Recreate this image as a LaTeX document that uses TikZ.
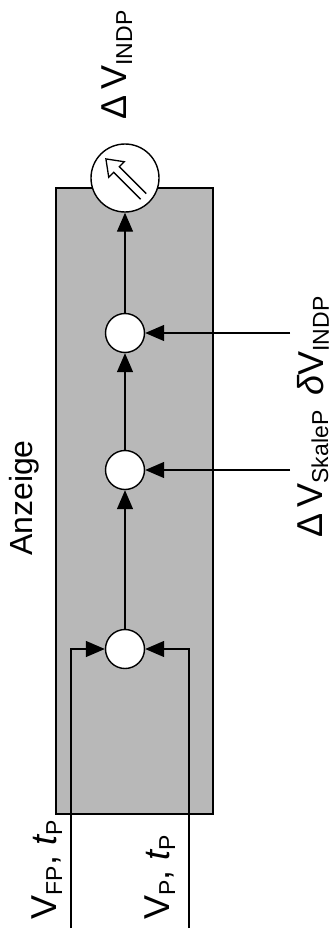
\documentclass[tikz,border=0pt]{standalone}
\usepackage{fontspec}
\setmainfont{Liberation Sans}
\usetikzlibrary{arrows.meta, positioning, calc}
\definecolor{panelgray}{RGB}{184,184,184}
\newcommand{\idx}[1]{\raisebox{-0.3ex}{\fontsize{23}{23}\selectfont #1}}

\begin{document}
\begin{tikzpicture}[x=1pt, y=-1pt, line width=1.4pt,
  sumnode/.style={circle, draw, fill=white, minimum size=39pt, inner sep=0pt},
  flow/.style={-{Triangle[length=19pt, width=16pt]}},
  lbl/.style={rotate=90, font=\fontsize{36}{36}\selectfont, inner sep=0pt}]
  \useasboundingbox (0,0) rectangle (334,931);
  % Anzeige block
  \node[draw, fill=panelgray, minimum width=157pt, minimum height=626pt, inner sep=0pt] (panel) at (134.5,501) {};
  \node[lbl, font=\fontsize{32}{32}\selectfont] (title) at (24,498) {Anzeige};
  % summing points and meter
  \node[sumnode] (s1) at (125,649) {};
  \node[sumnode] (s2) at (125,470) {};
  \node[sumnode] (s3) at (125,333) {};
  \node[circle, draw, fill=white, minimum size=68pt, inner sep=0pt] (meter) at (125,178) {};
  \begin{scope}[shift={(meter.center)}, rotate=135, line width=1.3pt]
    \draw (-26,4) -- (12,4) -- (12,11) -- (27,0) -- (12,-11) -- (12,-4) -- (-26,-4);
  \end{scope}
  % inputs
  \coordinate (inFP) at (71,928);
  \coordinate (inP) at (189,928);
  \coordinate (inSk) at (290,470);
  \coordinate (inDl) at (290,333);
  \draw[flow] (inFP) |- (s1);
  \draw[flow] (inP) |- (s1);
  \draw[flow] (inSk) -- (s2);
  \draw[flow] (inDl) -- (s3);
  \draw[flow] (s1) -- (s2);
  \draw[flow] (s2) -- (s3);
  \draw[flow] (s3) -- (meter);
  % labels
  \node[lbl] (lIndp) at (117,65) {Δ\,V\idx{INDP}};
  \node[lbl] (lSkale) at (313,474) {Δ\,V\idx{SkaleP}};
  \node[lbl] (lDelta) at (313,346) {{\itshape δ}V\idx{INDP}};
  \node[lbl] (lFP) at (47,870) {V\idx{FP}, {\itshape t}\idx{P}};
  \node[lbl] (lP) at (160,877) {V\idx{P}, {\itshape t}\idx{P}};
\end{tikzpicture}
\end{document}
